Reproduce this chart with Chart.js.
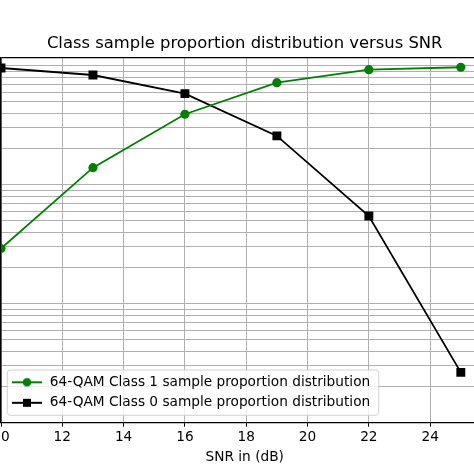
<!DOCTYPE html>
<html><head><meta charset="utf-8">
<script src="https://cdn.jsdelivr.net/npm/chart.js@4.4.0/dist/chart.umd.min.js"></script>
<style>
html,body{margin:0;padding:0;background:#fff;overflow:hidden;width:474px;height:474px;}
#wrap{position:absolute;left:-60px;top:0;width:610px;height:474px;}
</style></head><body>
<div id="wrap"><canvas id="c"></canvas></div>
<script>
// ---- data ----
const snr = [10, 13, 16, 19, 22, 25];
const class1 = [0.0291, 0.139, 0.391, 0.720, 0.926, 0.970];
const class0 = [0.956, 0.835, 0.582, 0.257, 0.0546, 0.00265];
const xTicks = [10, 12, 14, 16, 18, 20, 22, 24];
const yTicks = [0.001, 0.002, 0.003, 0.004, 0.005, 0.006, 0.007, 0.008, 0.009,
                0.01, 0.02, 0.03, 0.04, 0.05, 0.06, 0.07, 0.08, 0.09,
                0.1, 0.2, 0.3, 0.4, 0.5, 0.6, 0.7, 0.8, 0.9, 1];
const xMin = 10, xMax = 25.9, yMin = 0.001, yMax = 1.161;
const seriesLabels = ['64-QAM Class 1 sample proportion distribution',
                      '64-QAM Class 0 sample proportion distribution'];
const titleText = 'Class sample proportion distribution versus SNR';
const xTitle = 'SNR in (dB)';

Chart.defaults.font.family = "'DejaVu Sans', sans-serif";
Chart.defaults.color = '#000';

const FS = 13.7;   // tick / legend / label font size
const LEG_PAD = 6.8;

function legendSymbol(color, kind) {
  const c = document.createElement('canvas');
  c.width = 30; c.height = 12;
  const g = c.getContext('2d');
  g.strokeStyle = color; g.lineWidth = 2;
  g.beginPath(); g.moveTo(0, 6); g.lineTo(30, 6); g.stroke();
  g.fillStyle = color;
  if (kind === 'circle') { g.beginPath(); g.arc(15, 6, 4.3, 0, Math.PI * 2); g.fill(); }
  else { g.fillRect(11, 2, 8, 8); }
  return c;
}
const symbols = [legendSymbol('#008000', 'circle'), legendSymbol('#000000', 'rect')];

function drawFrame(lg) {
  const hb = lg.legendHitBoxes;
  if (!hb || !hb.length) return;
  let l = Infinity, t = Infinity, r = -Infinity, b = -Infinity;
  hb.forEach(h => {
    l = Math.min(l, h.left); t = Math.min(t, h.top);
    r = Math.max(r, h.left + h.width); b = Math.max(b, h.top + h.height);
  });
  l -= 3.7; t -= 5.45; r += 8.5; b += 5.65;
  const ctx = lg.ctx;
  ctx.save();
  ctx.beginPath();
  if (ctx.roundRect) ctx.roundRect(l, t, r - l, b - t, 3); else ctx.rect(l, t, r - l, b - t);
  ctx.fillStyle = 'rgba(255,255,255,0.8)';
  ctx.fill();
  ctx.strokeStyle = 'rgba(204,204,204,0.9)';
  ctx.lineWidth = 1;
  ctx.stroke();
  ctx.restore();
}

const legendPlacer = {
  id: 'legendPlacer',
  afterLayout(chart) {
    const lg = chart.legend, ca = chart.chartArea;
    if (!lg) return;
    lg.left = ca.left + 10 - LEG_PAD;
    lg.right = ca.right;
    lg.top = ca.top;
    lg.bottom = 416.45;
    lg.width = lg.right - lg.left;
    lg.height = lg.bottom - lg.top;
    if (!lg._framed) {
      const orig = lg.draw;
      lg.draw = function (a) { drawFrame(this); orig.call(this, a); };
      lg._framed = true;
    }
  }
};

new Chart(document.getElementById('c'), {
  type: 'line',
  data: {
    datasets: [
      {
        label: seriesLabels[0],
        data: snr.map((x, i) => ({ x: x, y: class1[i] })),
        borderColor: '#008000', backgroundColor: '#008000',
        pointStyle: 'circle', pointRadius: 4.6, pointHoverRadius: 4.6,
        pointBorderWidth: 0, borderWidth: 1.8, fill: false, tension: 0
      },
      {
        label: seriesLabels[1],
        data: snr.map((x, i) => ({ x: x, y: class0[i] })),
        borderColor: '#000000', backgroundColor: '#000000',
        pointStyle: 'rect', pointRadius: 6.3, pointHoverRadius: 6.3,
        pointBorderWidth: 0, borderWidth: 1.8, fill: false, tension: 0
      }
    ]
  },
  options: {
    responsive: true, maintainAspectRatio: false, animation: false,
    layout: { padding: { left: 61, right: 61.6, top: 0, bottom: 0 } },
    plugins: {
      title: {
        display: true, text: titleText, color: '#000',
        font: { size: 16.4, weight: 'normal' },
        padding: { top: 34.2, bottom: 4.1 }
      },
      legend: {
        position: 'chartArea', align: 'end',
        labels: {
          font: { size: FS }, color: '#000',
          usePointStyle: true, pointStyleWidth: 32, padding: LEG_PAD,
          generateLabels(chart) {
            return chart.data.datasets.map((ds, i) => ({
              text: ds.label, pointStyle: symbols[i], fillStyle: ds.borderColor,
              strokeStyle: ds.borderColor, lineWidth: 0, hidden: false,
              datasetIndex: i, fontColor: '#000'
            }));
          }
        }
      },
      tooltip: { enabled: false }
    },
    scales: {
      x: {
        type: 'linear', min: xMin, max: xMax,
        afterBuildTicks(s) { s.ticks = xTicks.map(v => ({ value: v })); },
        afterFit(s) { s.height = 51.3; },
        grid: { color: '#b0b0b0', lineWidth: 1, tickColor: '#000', tickLength: 4, drawTicks: true },
        border: { display: true, color: '#000', width: 1.2 },
        ticks: { color: '#000', font: { size: FS }, padding: 2.9, maxRotation: 0, autoSkip: false },
        title: { display: true, text: xTitle, color: '#000', font: { size: FS }, padding: { top: 0, bottom: 8.8 } }
      },
      y: {
        type: 'logarithmic', min: yMin, max: yMax,
        afterBuildTicks(s) { s.ticks = yTicks.concat([yMax]).map(v => ({ value: v })); },
        afterFit(s) { s.width = 0; },
        grid: {
          color: (c) => (c.tick && c.tick.value === yMax) ? '#000' : '#b0b0b0',
          lineWidth: (c) => (c.tick && c.tick.value === yMax) ? 1.2 : 1,
          drawTicks: false
        },
        border: { display: true, color: '#000', width: 1.5 },
        ticks: { display: false }
      }
    }
  },
  plugins: [legendPlacer]
});
</script>
</body></html>
